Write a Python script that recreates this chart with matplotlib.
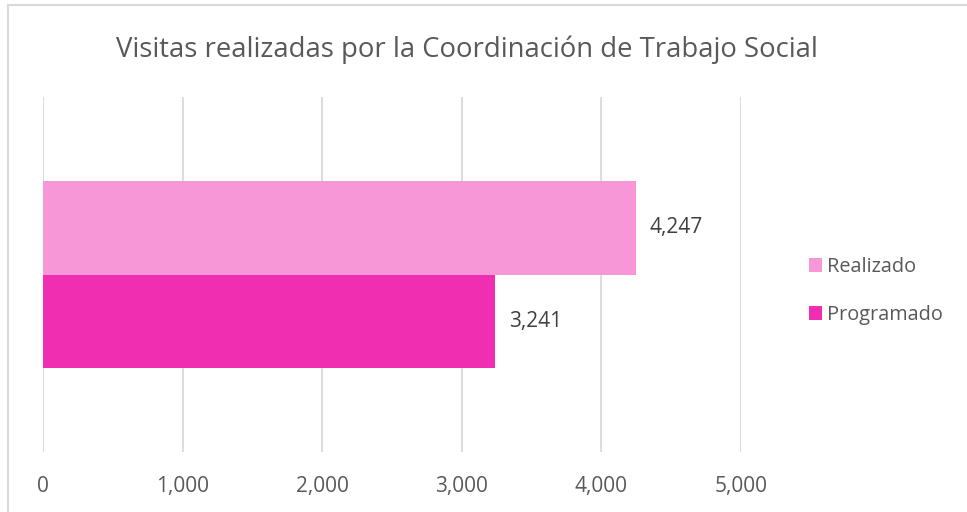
import matplotlib.pyplot as plt
from matplotlib.patches import Rectangle
from matplotlib.ticker import FuncFormatter

titulo = 'Visitas realizadas por la Coordinación de Trabajo Social'
series = ['Realizado', 'Programado']
valores = [4247, 3241]
colores = ['#F797D8', '#F02EB2']
ticks_x = [0, 1000, 2000, 3000, 4000, 5000]

plt.rcParams['font.family'] = ['Open Sans', 'DejaVu Sans']
gris = '#595959'

fig = plt.figure(figsize=(9.67, 5.12), dpi=100)
W, H = 967, 512

# borde del área del gráfico
fig.patches.append(Rectangle((8 / W, -0.05), 1.0, 1.05 - 5 / H, transform=fig.transFigure,
                             fill=False, edgecolor='#d9d9d9', linewidth=1.5))

ax = fig.add_axes([43 / W, 1 - 452 / H, (741 - 43) / W, (452 - 97) / H])

alto = 0.263
posiciones = [alto / 2, -alto / 2]
for nombre, v, c, y in zip(series, valores, colores, posiciones):
    ax.barh(y, v, height=alto, color=c, label=nombre, zorder=3)
    ax.text(v + 100, y, f'{v:,}', va='center', ha='left', fontsize=15, color='#404040')

ax.set_xlim(0, 5000)
ax.set_ylim(-0.5, 0.5)
ax.set_xticks(ticks_x)
ax.xaxis.set_major_formatter(FuncFormatter(lambda x, p: f'{int(x):,}'))
ax.set_yticks([])
ax.grid(axis='x', color='#d9d9d9', linewidth=1.3, zorder=0)
for s in ax.spines.values():
    s.set_visible(False)
ax.tick_params(axis='x', length=0, labelsize=15, labelcolor=gris, pad=17)

fig.text(467 / W, 1 - 50 / H, titulo, ha='center', va='center', fontsize=19.8, color=gris)

handles, labels = ax.get_legend_handles_labels()
leg = fig.legend(handles, labels, loc='center left', bbox_to_anchor=(791 / W, 1 - 291 / H),
                 frameon=False, fontsize=14.3, handlelength=0.65, handleheight=0.65,
                 handletextpad=0.25, labelspacing=1.4, labelcolor=gris)

plt.savefig('out.png', dpi=100)
